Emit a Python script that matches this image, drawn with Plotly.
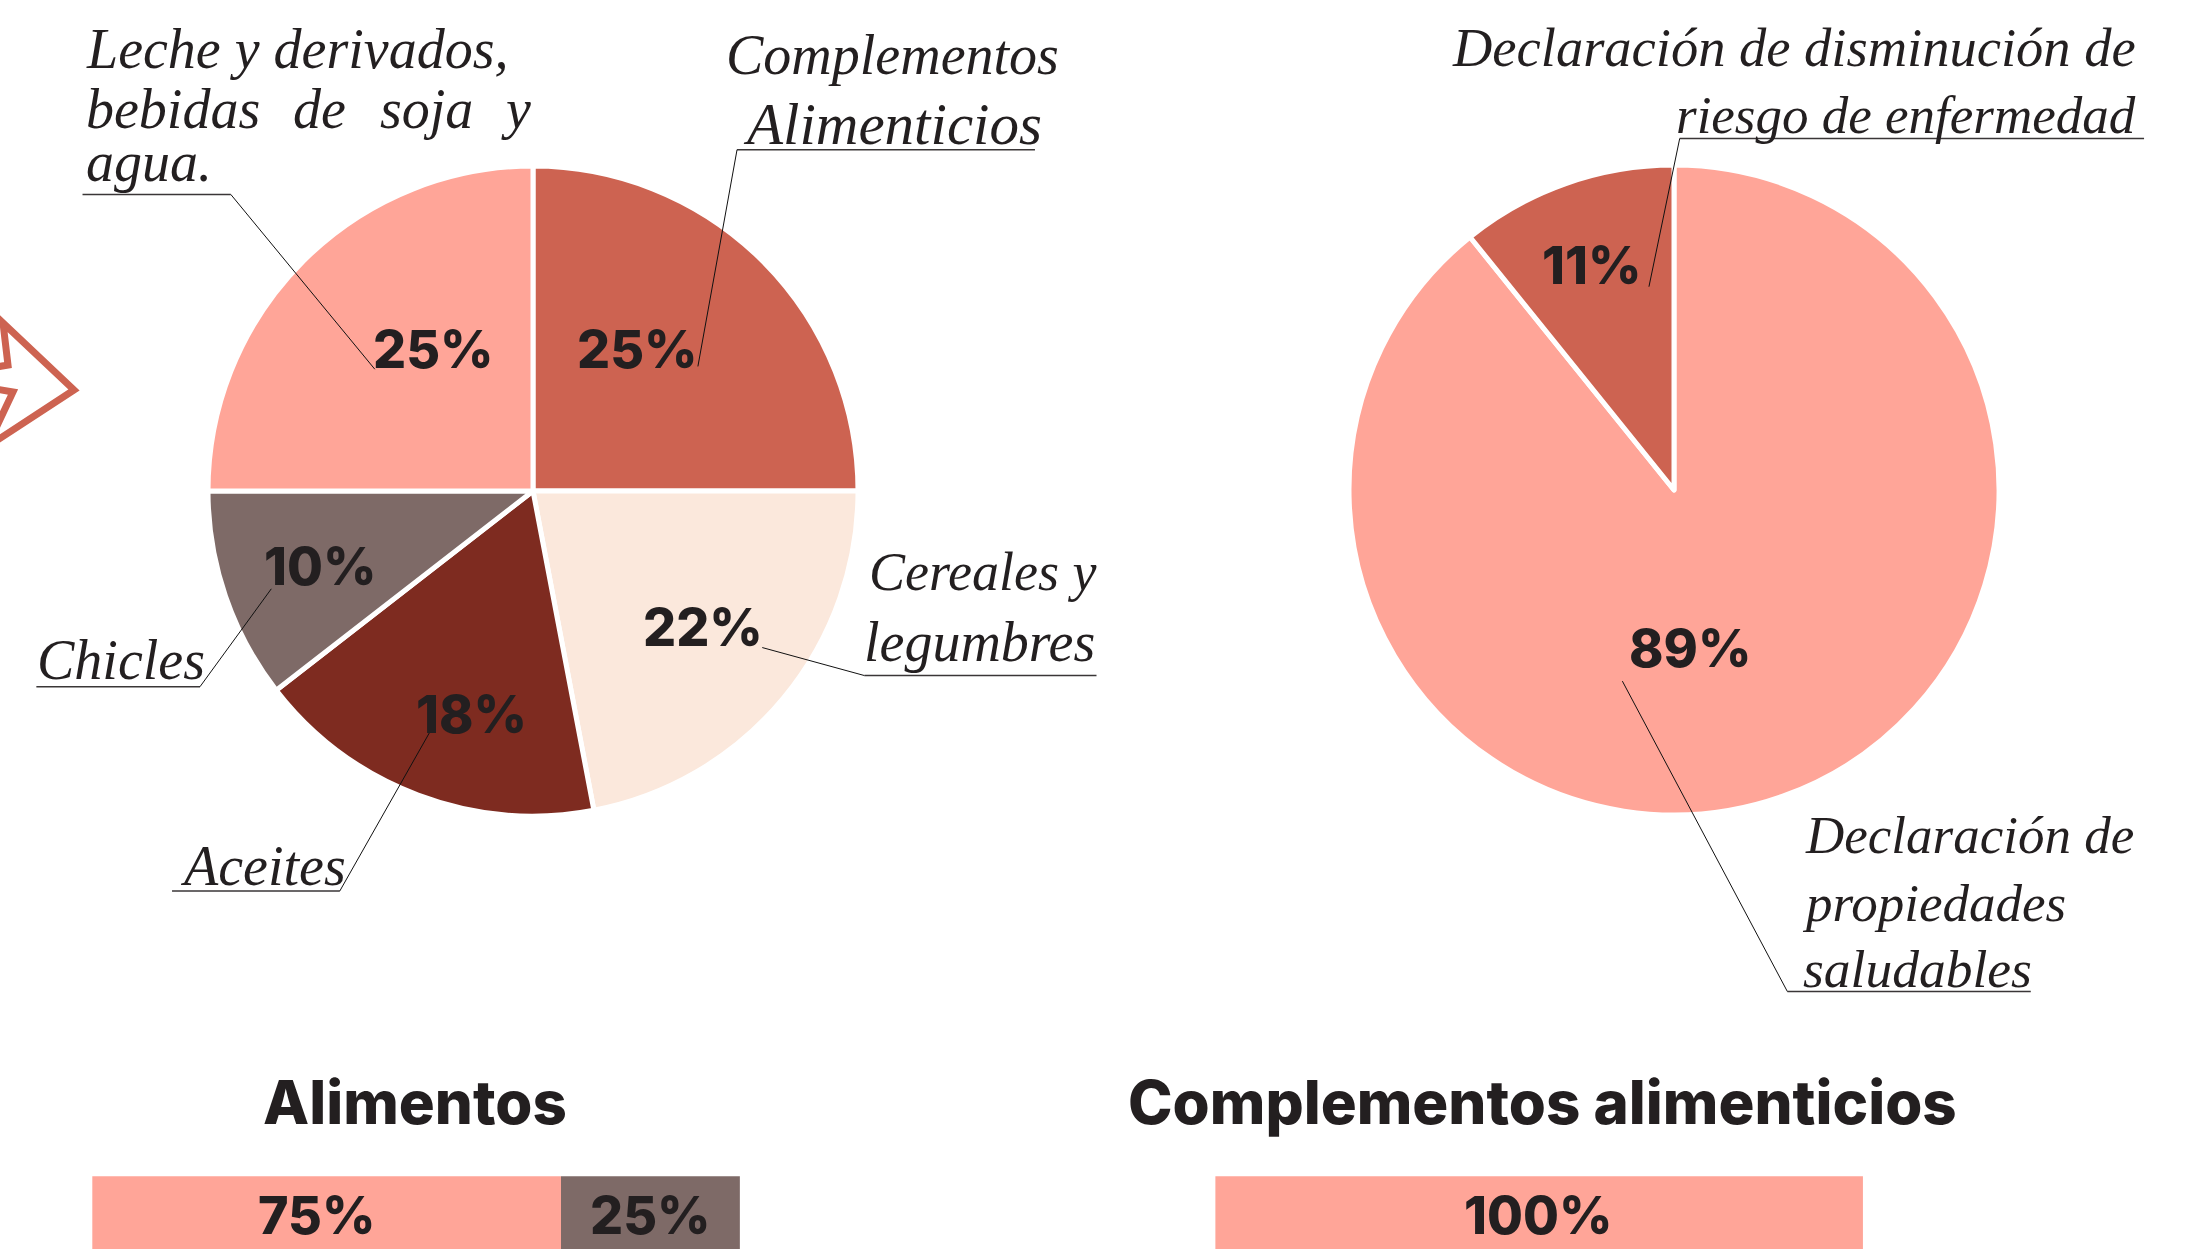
import plotly.graph_objects as go

W, H = 2193, 1249

# ---- data ----
food_categories = ["Complementos Alimenticios", "Cereales y legumbres", "Aceites", "Chicles",
                   "Leche y derivados, bebidas de soja y agua."]
# Slice sizes as drawn in the picture (printed labels are the rounded figures below)
food_values = [25, 22, 17.5, 10.5, 25]
food_pct_labels = ["25%", "22%", "18%", "10%", "25%"]
claim_categories = ["Declaración de propiedades saludables", "Declaración de disminución de riesgo de enfermedad"]
claim_values = [89.2, 10.8]
claim_pct_labels = ["89%", "11%"]
# Bar lengths as drawn in the picture; printed labels differ slightly from drawn length
alimentos_drawn = [72.4, 27.6]
alimentos_labels = ["75%", "25%"]
complementos_drawn = [100]
complementos_labels = ["100%"]
bar_titles = ["Alimentos", "Complementos alimenticios"]

SALMON = "#FFA598"
BRICK = "#CD6351"
CREAM = "#FBE8DC"
DARK = "#7E2B20"
GREY = "#7E6A67"
INK = "#231F20"
S = 2193 / 1568  # coordinates below measured on the 1568-wide view


def px(x):
    return x * S / W


def py(y):
    return 1 - y * S / H


def pie_domain(cx, cy, r):
    return dict(x=[(cx - r) / W, (cx + r) / W], y=[1 - (cy + r) / H, 1 - (cy - r) / H])


fig = go.Figure()
fig.add_trace(go.Pie(labels=food_categories, values=food_values, sort=False, direction="clockwise",
                     rotation=0, textinfo="none", hoverinfo="label",
                     marker=dict(colors=[BRICK, CREAM, DARK, GREY, SALMON], line=dict(color="white", width=5)),
                     domain=pie_domain(533, 491, 325), showlegend=False))
fig.add_trace(go.Pie(labels=claim_categories, values=claim_values, sort=False, direction="clockwise",
                     rotation=0, textinfo="none", hoverinfo="label",
                     marker=dict(colors=[SALMON, BRICK], line=dict(color="white", width=5)),
                     domain=pie_domain(1674, 490, 325), showlegend=False))

# stacked bars, cut off by the bottom edge
for val, col in zip(alimentos_drawn, [SALMON, GREY]):
    fig.add_trace(go.Bar(x=[val], y=[0], orientation="h", width=1, marker=dict(color=col, line=dict(width=0)),
                         xaxis="x", yaxis="y", showlegend=False))
for val, col in zip(complementos_drawn, [SALMON]):
    fig.add_trace(go.Bar(x=[val], y=[0], orientation="h", width=1, marker=dict(color=col, line=dict(width=0)),
                         xaxis="x2", yaxis="y2", showlegend=False))

ann = []


def T(txt, x, y, anchor="left", size=48, font="Liberation Serif", italic=True, bold=False):
    ann.append(dict(text=txt, x=px(x), y=py(y), xref="paper", yref="paper", xanchor=anchor, yanchor="middle",
                    showarrow=False,
                    font=dict(family=font, size=size, color=INK, style="italic" if italic else "normal",
                              weight=800 if bold else 400)))


def P(txt, x, y, size=52):
    T(txt, x, y, "center", size, "Inter", False, True)


T("Leche y derivados,", 60, 35, "left", 56)
T("bebidas", 60, 78, "left", 56)
T("de", 208, 78, "left", 56)
T("soja", 270, 78, "left", 56)
T("y", 381, 78, "right", 56)
T("agua.", 60, 116, "left", 56)
T("Complementos", 638, 39, "center", 56)
T("Alimenticios", 638, 89, "center", 59)
T("Cereales y", 785, 409, "right", 54)
T("legumbres", 784, 459, "right", 56)
T("Chicles", 25, 472, "left", 56)
T("Aceites", 127, 619, "left", 56)
T("Declaración de disminución de", 1529, 34, "right", 54.5)
T("riesgo de enfermedad", 1529, 82, "right", 53)
T("Declaración de", 1289, 597, "left", 53)
T("propiedades", 1287, 646, "left", 53)
T("saludables", 1288, 693, "left", 53.5)

for txt, (x, y) in zip(food_pct_labels, [(456, 250), (503, 449), (337, 511), (229, 405), (310, 250)]):
    P(txt, x, y)
for txt, (x, y) in zip(claim_pct_labels, [(1208, 464), (1138, 190)]):
    P(txt, x, y)
for txt, (x, y) in zip(alimentos_labels + complementos_labels, [(226, 869), (465, 869), (1100, 869)]):
    P(txt, x, y)
for txt, (x, y) in zip(bar_titles, [(297, 788), (1103, 788)]):
    P(txt, x, y, 60)

# leader lines
leaders = [
    [(59, 139), (165, 139), (268, 264)],
    [(740, 107), (527, 107), (499, 262)],
    [(784, 483), (618, 483), (545, 463)],
    [(26, 491), (143, 491), (194, 421)],
    [(123, 637), (243, 637), (307, 524)],
    [(1533, 99), (1201, 99), (1179, 205)],
    [(1452, 709), (1278, 709), (1160, 487)],
]
shapes = []
for a, b, c in leaders:
    shapes.append(dict(type="line", xref="paper", yref="paper", x0=px(a[0]), y0=py(a[1]), x1=px(b[0]), y1=py(b[1]),
                       line=dict(color="#3a3637", width=1.5)))
    shapes.append(dict(type="line", xref="paper", yref="paper", x0=px(b[0]), y0=py(b[1]), x1=px(c[0]), y1=py(c[1]),
                       line=dict(color="#111111", width=1)))

# partial arrow icon at the left edge (pixel coordinates of the full picture)
icon_a = [(-4, 441), (74, 390), (3, 323), (8, 365), (-4, 367)]
icon_b = [(-4, 389), (13, 392), (-4, 428)]


def svg(pts):
    return "M " + " L ".join(f"{x / W:.5f} {1 - y / H:.5f}" for x, y in pts)


shapes.append(dict(type="path", xref="paper", yref="paper", path=svg(icon_a) + " " + svg(icon_b),
                   line=dict(color=BRICK, width=7)))

fig.update_layout(
    width=W, height=H, margin=dict(l=0, r=0, t=0, b=0), paper_bgcolor="white", plot_bgcolor="white",
    barmode="stack", bargap=0, autosize=False,
    xaxis=dict(domain=[66 * S / W, 529 * S / W], range=[0, 100], visible=False, fixedrange=True),
    yaxis=dict(domain=[0, 1 - 841 * S / H], range=[-0.5, 0.5], visible=False, fixedrange=True),
    xaxis2=dict(domain=[869 * S / W, 1332 * S / W], range=[0, 100], visible=False, fixedrange=True, anchor="y2"),
    yaxis2=dict(domain=[0, 1 - 841 * S / H], range=[-0.5, 0.5], visible=False, fixedrange=True, anchor="x2"),
    annotations=ann, shapes=shapes,
)
fig.write_html("out.html", config=dict(displayModeBar=False),
               post_script="document.body.style.margin='0';document.body.style.overflow='hidden';")
